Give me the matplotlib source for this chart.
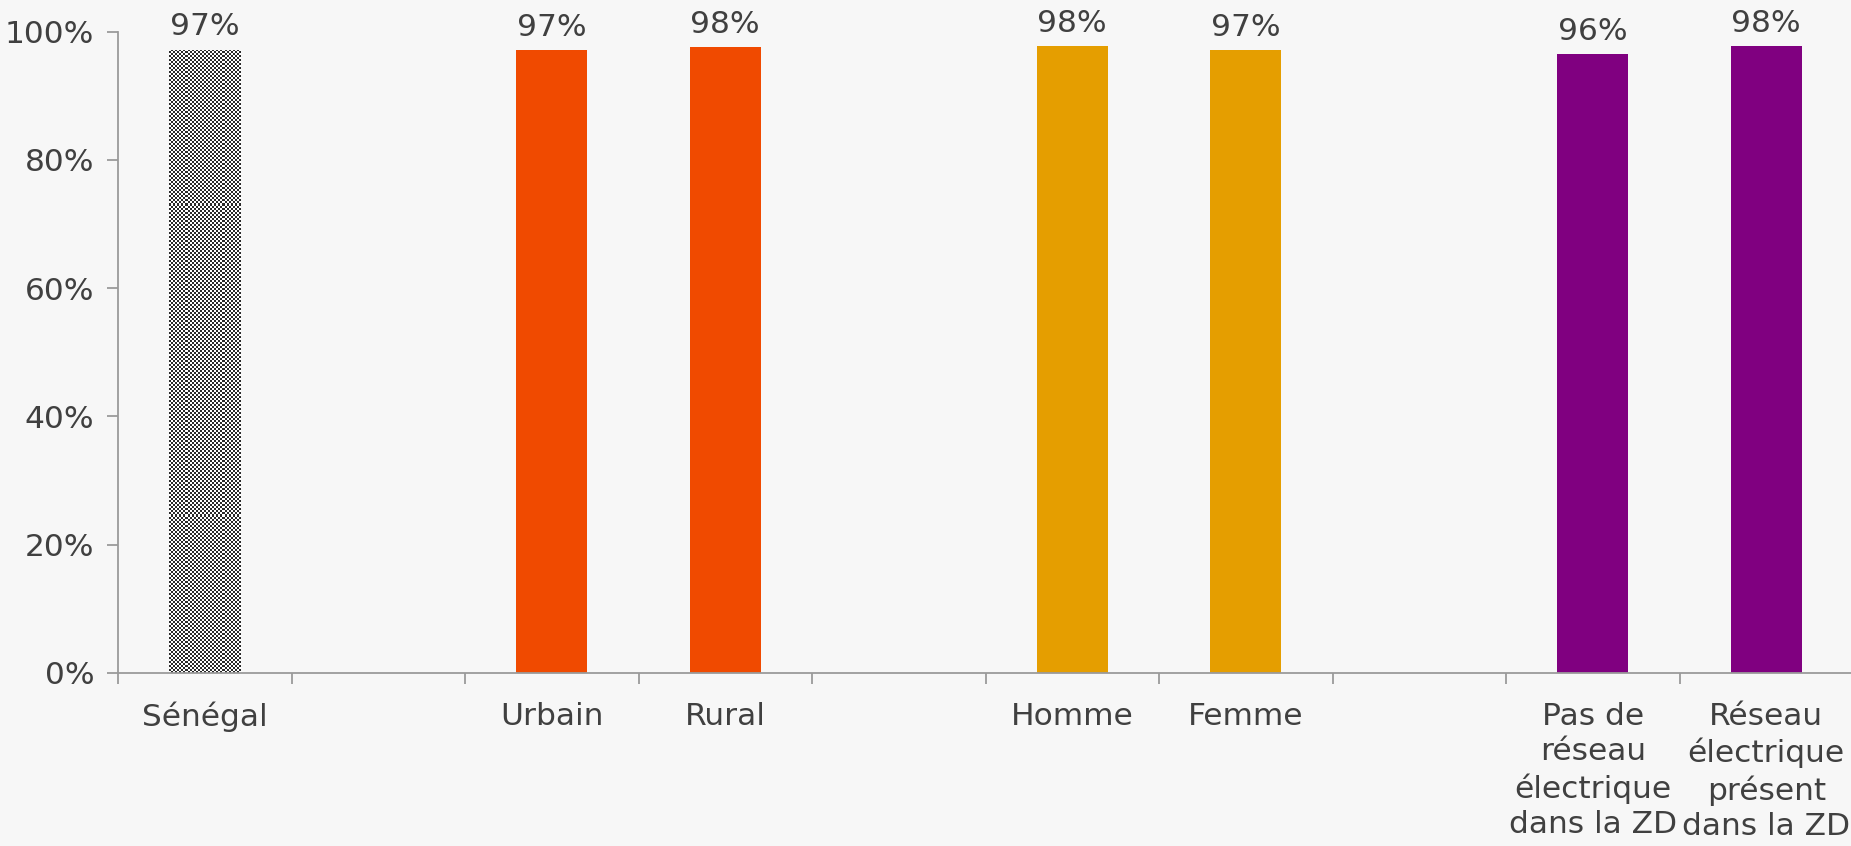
import numpy as np
import matplotlib
matplotlib.use("Agg")
import matplotlib.pyplot as plt

# ---- data ----
categories = ["Sénégal", "", "Urbain", "Rural", "", "Homme", "Femme", "",
              "Pas de\nréseau\nélectrique\ndans la ZD",
              "Réseau\nélectrique\nprésent\ndans la ZD"]
values = [0.972, np.nan, 0.971, 0.976, np.nan, 0.977, 0.971, np.nan, 0.965, 0.977]
labels = ["97%", "", "97%", "98%", "", "98%", "97%", "", "96%", "98%"]
colors = ["#333333", "none", "#F04A00", "#F04A00", "none", "#E59E00", "#E59E00",
          "none", "#800080", "#800080"]
yticks = [0, 0.2, 0.4, 0.6, 0.8, 1.0]
ytick_labels = ["0%", "20%", "40%", "60%", "80%", "100%"]

plt.rcParams['font.family'] = ['DejaVu Sans']
TXT = "#404040"
BG = "#f7f7f7"
FS = 22.5

W, H = 1851, 846
fig = plt.figure(figsize=(W / 100, H / 100), dpi=100, facecolor=BG)
left = 118 / W
right = 1853 / W
bottom = 1 - 672.7 / H
top = 1 - 31.7 / H
ax = fig.add_axes([left, bottom, right - left, top - bottom])
ax.set_facecolor("none")

x = np.arange(len(categories))
bw = 0.41
bars = ax.bar(x, np.nan_to_num(values), width=bw, color=colors, linewidth=0, zorder=2)

# checkerboard fill for the first (Sénégal) bar
b0 = bars[0]
bx0, by0 = b0.get_x(), b0.get_y()
bwid, bhgt = b0.get_width(), b0.get_height()
nx, ny = 35, 311
checker = (np.add.outer(np.arange(ny), np.arange(nx)) % 2).astype(float)
b0.set_facecolor("white")
im = ax.imshow(checker, cmap=matplotlib.colors.ListedColormap(["#ffffff", "#2a2a2a"]),
               extent=[bx0, bx0 + bwid, by0, by0 + bhgt], origin="lower",
               interpolation="nearest", aspect="auto", zorder=3)
im.set_clip_path(b0)

for xi, v, lab in zip(x, values, labels):
    if not np.isnan(v):
        ax.annotate(lab, (xi, v), xytext=(0, 6), textcoords="offset points",
                    ha="center", va="bottom", fontsize=FS, color=TXT)

ax.set_xlim(-0.5, len(categories) - 0.5)
ax.set_ylim(0, 1.0)
ax.set_yticks(yticks)
ax.set_yticklabels(ytick_labels, fontsize=FS, color=TXT)
ax.set_xticks(np.arange(len(categories) + 1) - 0.5, minor=False)
ax.set_xticklabels([""] * (len(categories) + 1))
ax.set_xticks(x, minor=True)
ax.set_xticklabels(categories, minor=True, fontsize=FS, color=TXT, linespacing=1.28,
                   va="top", ha="center")
ax.tick_params(axis="x", which="major", length=8, width=1.3, color="#9a9a9a", direction="out")
ax.tick_params(axis="x", which="minor", length=0, pad=21)
ax.tick_params(axis="y", length=8, width=1.3, color="#9a9a9a", pad=9)

for s in ["top", "right"]:
    ax.spines[s].set_visible(False)
for s in ["left", "bottom"]:
    ax.spines[s].set_color("#9a9a9a")
    ax.spines[s].set_linewidth(1.3)
ax.spines["left"].set_zorder(1)
ax.spines["bottom"].set_zorder(4)

fig.savefig("out.png", dpi=100, facecolor=BG)
